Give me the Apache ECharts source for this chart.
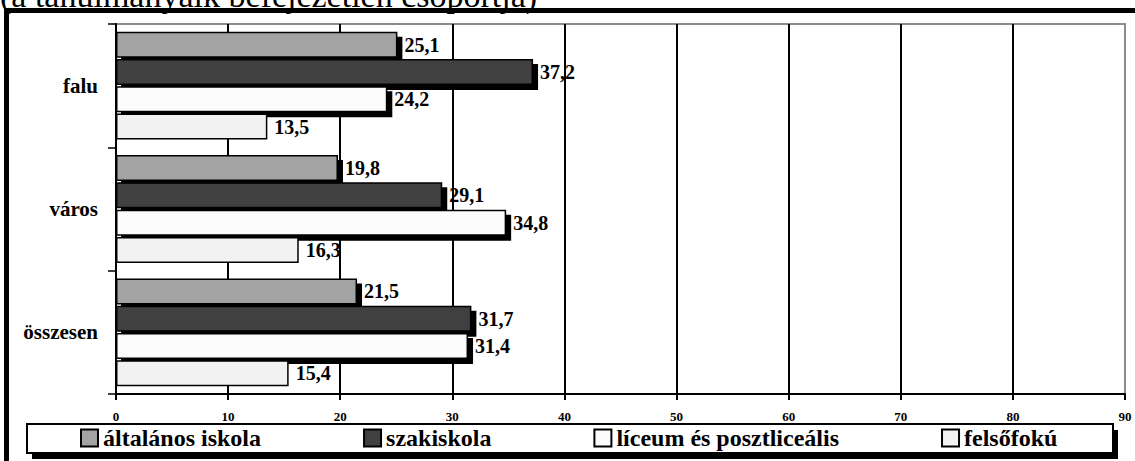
<!DOCTYPE html>
<html>
<head>
<meta charset="utf-8">
<script src="https://cdn.jsdelivr.net/npm/echarts@6/dist/echarts.min.js"></script>
<style>
  html, body { margin: 0; padding: 0; background: #fff; }
  #chart { width: 1135px; height: 461px; }
</style>
</head>
<body>
<div id="chart"></div>
<script>
// adatok
const categories = ['falu', 'város', 'összesen'];
const seriesNames = ['általános iskola', 'szakiskola', 'líceum és posztliceális', 'felsőfokú'];
const altalanos = [25.1, 19.8, 21.5];
const szakiskola = [37.2, 29.1, 31.7];
const liceum = [24.2, 34.8, 31.4];
const felsofoku = [13.5, 16.3, 15.4];
const axisMin = 0, axisMax = 90, axisStep = 10;
const subtitle = '(a tanulmányaik befejezetlen csoportja)';

// svg-ben dupla idézőjel nem mehet a font nevébe
const FONT = "'Liberation Serif', 'Times New Roman', serif";
const colors = ['#a3a3a3', '#404040', '#fcfcfc', '#f2f2f2'];
const values = [altalanos, szakiskola, liceum, felsofoku];

// svg renderer: az árnyék a teljes oszlopra (kitöltés + keret) egyben esik
const chart = echarts.init(document.getElementById('chart'), null, { renderer: 'svg' });

const series = seriesNames.map((name, i) => ({
  name: name,
  type: 'bar',
  data: values[i],
  barWidth: 26,
  barGap: '5%',
  itemStyle: {
    color: colors[i],
    borderColor: '#000',
    borderWidth: 1.5,
    // az utolsó sorozatnak nincs árnyéka
    shadowColor: i < 3 ? '#000' : 'rgba(0,0,0,0)',
    shadowBlur: 0,
    shadowOffsetX: i < 3 ? 5 : 0,
    shadowOffsetY: i < 3 ? 5 : 0
  },
  label: {
    show: true,
    position: 'right',
    distance: 7,
    formatter: p => String(p.value).replace('.', ','),
    fontFamily: FONT,
    fontWeight: 'bold',
    fontSize: 20,
    color: '#000'
  },
  emphasis: { disabled: true }
}));

const option = {
  animation: false,
  grid: {
    left: 116,
    right: 10,
    top: 24,
    bottom: 67,
    show: true,
    borderColor: '#8c8c8c',
    borderWidth: 2
  },
  xAxis: {
    type: 'value',
    min: axisMin,
    max: axisMax,
    interval: axisStep,
    axisLine: { show: true, lineStyle: { color: '#000', width: 2 } },
    axisTick: { show: true, length: 6, lineStyle: { color: '#000', width: 2 } },
    axisLabel: {
      margin: 16,
      fontFamily: FONT,
      fontWeight: 'bold',
      fontSize: 13,
      color: '#000'
    },
    splitLine: { show: true, showMaxLine: false, lineStyle: { color: '#000', width: 2 } }
  },
  yAxis: {
    type: 'category',
    data: categories,
    inverse: true,
    axisLine: { show: true, lineStyle: { color: '#000', width: 2 } },
    axisTick: { show: true, length: 8, lineStyle: { color: '#000', width: 1.5 } },
    axisLabel: {
      margin: 18,
      fontFamily: FONT,
      fontWeight: 'bold',
      fontSize: 21,
      color: '#000'
    }
  },
  legend: {
    data: seriesNames,
    left: 80,
    top: 426,
    padding: 0,
    itemGap: 102,
    icon: 'rect',
    itemWidth: 17,
    itemHeight: 17,
    selectedMode: false,
    itemStyle: { borderColor: '#000', borderWidth: 2, shadowColor: 'rgba(0,0,0,0)', shadowOffsetX: 0, shadowOffsetY: 0 },
    textStyle: { fontFamily: FONT, fontWeight: 'bold', fontSize: 24, color: '#000' }
  },
  graphic: [
    // külső keret
    {
      type: 'rect', z: 0,
      shape: { x: 6.5, y: 10.5, width: 1140, height: 470 },
      style: { fill: 'none', stroke: '#000', lineWidth: 5 }
    },
    // jelmagyarázat doboz árnyéka és doboza
    {
      type: 'rect', z: 1,
      shape: { x: 32, y: 430, width: 1086, height: 29 },
      style: { fill: '#000' }
    },
    {
      type: 'rect', z: 1,
      shape: { x: 27, y: 424, width: 1086, height: 29 },
      style: { fill: '#fff', stroke: '#000', lineWidth: 2 }
    },
    // alcím, a teteje kilóg a képből (mint az eredetin)
    {
      type: 'text', z: 1,
      style: { x: 0, y: -5, text: subtitle, fontSize: 34, fontFamily: FONT, fill: '#000', verticalAlign: 'middle' }
    }
  ],
  series: series
};

chart.setOption(option);
</script>
</body>
</html>
